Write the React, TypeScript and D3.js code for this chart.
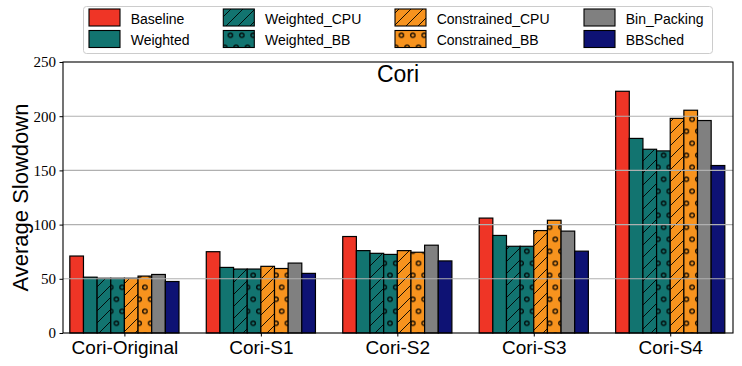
import React, { useEffect, useRef } from 'react';
import * as d3 from 'd3';

const categories = ['Cori-Original', 'Cori-S1', 'Cori-S2', 'Cori-S3', 'Cori-S4'];
const seriesNames = ['Baseline', 'Weighted', 'Weighted_CPU', 'Weighted_BB', 'Constrained_CPU', 'Constrained_BB', 'Bin_Packing', 'BBSched'];
const baseline = [71, 75, 89, 106, 223];
const weighted = [51.5, 60.5, 76, 90, 179.5];
const weightedCPU = [50.5, 59, 73.5, 80, 169.5];
const weightedBB = [50.5, 59, 72.5, 80, 168];
const constrainedCPU = [50.5, 61.5, 76, 94.5, 198];
const constrainedBB = [52.5, 59.5, 74.5, 104, 205.5];
const binPacking = [54, 64.5, 81, 94, 196];
const bbsched = [47.5, 55, 66.5, 75.5, 154.5];
const yTicks = [0, 50, 100, 150, 200, 250];

const seriesValues = [baseline, weighted, weightedCPU, weightedBB, constrainedCPU, constrainedBB, binPacking, bbsched];
const colors = ['#ef3526', '#127470', '#127470', '#127470', '#f7931e', '#f7931e', '#808080', '#0e1274'];
const hatches = ['', '', 'lines', 'circles', 'lines', 'circles', '', ''];

function App() {
  const ref = useRef<SVGSVGElement>(null);

  useEffect(() => {
    const svg = d3.select(ref.current);
    svg.selectAll('*').remove();

    const left = 63, right = 733, top = 62, bottom = 333;
    const x = d3.scaleLinear().domain([-0.45, 4.46]).range([left, right]);
    const y = d3.scaleLinear().domain([0, 250]).range([bottom, top]);
    const bw = 0.1;

    const defs = svg.append('defs');
    const pl = defs.append('pattern').attr('id', 'lines').attr('patternUnits', 'userSpaceOnUse')
      .attr('width', 12).attr('height', 12);
    pl.append('path').attr('d', 'M0,12 L12,0 M-3,3 L3,-3 M9,15 L15,9')
      .attr('stroke', '#000').attr('stroke-width', 0.9).attr('fill', 'none');
    const pc = defs.append('pattern').attr('id', 'circles').attr('patternUnits', 'userSpaceOnUse')
      .attr('width', 11.4).attr('height', 24).attr('patternTransform', 'translate(8.1,23.3)');
    [[0, 0], [11.4, 0], [0, 24], [11.4, 24], [5.7, 12]].forEach(([cx, cy]) => {
      pc.append('circle').attr('cx', cx).attr('cy', cy).attr('r', 2.2)
        .attr('fill', 'none').attr('stroke', '#000').attr('stroke-width', 1.2);
    });

    // bars
    const g = svg.append('g');
    seriesValues.forEach((vals, s) => {
      vals.forEach((v, c) => {
        const x0 = x(c + (s - 4) * bw);
        const w = x(c + (s - 3) * bw) - x0;
        g.append('rect').attr('x', x0).attr('y', y(v)).attr('width', w).attr('height', y(0) - y(v))
          .attr('fill', colors[s]);
        if (hatches[s]) {
          g.append('rect').attr('x', x0).attr('y', y(v)).attr('width', w).attr('height', y(0) - y(v))
            .attr('fill', `url(#${hatches[s]})`);
        }
        g.append('rect').attr('x', x0).attr('y', y(v)).attr('width', w).attr('height', y(0) - y(v))
          .attr('fill', 'none').attr('stroke', '#000').attr('stroke-width', 1.2);
      });
    });

    // grid on top of bars
    svg.append('g').selectAll('line').data(yTicks.slice(1, -1)).enter().append('line')
      .attr('x1', left).attr('x2', right).attr('y1', (d) => y(d)).attr('y2', (d) => y(d))
      .attr('stroke', '#b0b0b0').attr('stroke-width', 1.1);

    // frame
    svg.append('rect').attr('x', left).attr('y', top).attr('width', right - left).attr('height', bottom - top)
      .attr('fill', 'none').attr('stroke', '#000').attr('stroke-width', 1.1);

    // y axis
    const yAxis = d3.axisLeft(y).tickValues(yTicks).tickSize(3.5).tickPadding(3.5);
    const ya = svg.append('g').attr('transform', `translate(${left},0)`).call(yAxis);
    ya.select('.domain').remove();
    ya.selectAll('text').attr('font-family', '"Liberation Serif", serif').attr('font-size', 15).attr('fill', '#000');

    // x axis
    const xAxis = d3.axisBottom(x).tickValues(d3.range(categories.length))
      .tickFormat((d) => categories[d as number]).tickSize(3.5).tickPadding(4);
    const xa = svg.append('g').attr('transform', `translate(0,${bottom})`).call(xAxis);
    xa.select('.domain').remove();
    xa.selectAll('text').attr('font-family', '"Liberation Sans", Arial, sans-serif').attr('font-size', 19).attr('fill', '#000');

    // y label
    svg.append('text').attr('transform', `translate(28,${(top + bottom) / 2}) rotate(-90)`)
      .attr('text-anchor', 'middle').attr('font-family', '"Liberation Sans", Arial, sans-serif')
      .attr('font-size', 22).text('Average Slowdown');

    // title
    svg.append('text').attr('x', (left + right) / 2).attr('y', 82).attr('text-anchor', 'middle')
      .attr('font-family', '"Liberation Sans", Arial, sans-serif').attr('font-size', 23).text('Cori');

    // legend
    const lg = svg.append('g');
    lg.append('rect').attr('x', 83.5).attr('y', 6.5).attr('width', 629).attr('height', 47).attr('rx', 3)
      .attr('fill', '#fff').attr('stroke', '#cccccc').attr('stroke-width', 1);
    const colX = [89, 223.3, 395, 584];
    const rowY = [9, 30.5];
    seriesNames.forEach((name, i) => {
      const cx = colX[Math.floor(i / 2)];
      const cy = rowY[i % 2];
      lg.append('rect').attr('x', cx).attr('y', cy).attr('width', 31).attr('height', 17).attr('fill', colors[i]);
      if (hatches[i]) {
        lg.append('rect').attr('x', cx).attr('y', cy).attr('width', 31).attr('height', 17).attr('fill', `url(#${hatches[i]})`);
      }
      lg.append('rect').attr('x', cx).attr('y', cy).attr('width', 31).attr('height', 17)
        .attr('fill', 'none').attr('stroke', '#000').attr('stroke-width', 1.1);
      lg.append('text').attr('x', cx + 41.7).attr('y', cy + 14.5)
        .attr('font-family', '"Liberation Sans", Arial, sans-serif').attr('font-size', 14).text(name);
    });
  }, []);

  return (
    <svg
      ref={ref}
      width={742}
      height={366}
      style={{ position: 'absolute', left: 0, top: 0, background: '#fff' }}
    />
  );
}

export default App;
